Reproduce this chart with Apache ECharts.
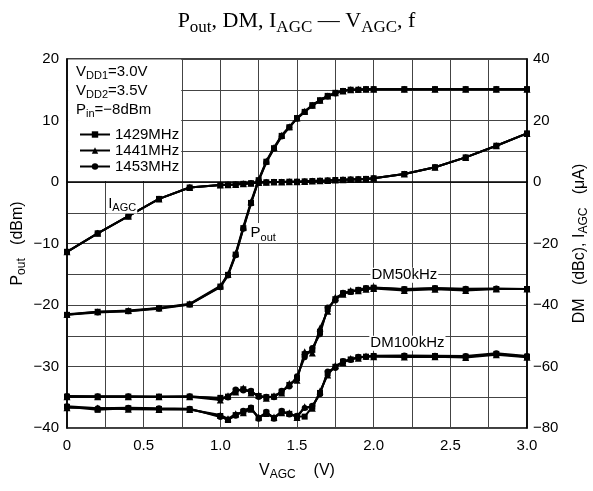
<!DOCTYPE html>
<html><head><meta charset="utf-8">
<script src="https://cdn.jsdelivr.net/npm/echarts@6.0.0/dist/echarts.min.js"></script>
<style>html,body{margin:0;padding:0;background:#fff}#c{width:593px;height:491px}</style>
</head><body><div id="c"></div>
<script>
const vagc = [0,0.2,0.4,0.6,0.8,1.0,1.05,1.1,1.15,1.2,1.25,1.3,1.35,1.4,1.45,1.5,1.55,1.6,1.65,1.7,1.75,1.8,1.85,1.9,1.95,2.0,2.2,2.4,2.6,2.8,3.0];
const freqs = ['1429MHz','1441MHz','1453MHz'];
const pout1429 = [-21.6,-21.1,-21.0,-20.5,-19.9,-17.0,-15.1,-11.8,-7.5,-3.4,0.3,3.3,5.5,7.5,8.9,10.4,11.4,12.5,13.3,14.0,14.5,14.8,15.0,15.0,15.1,15.1,15.1,15.1,15.1,15.1,15.1];
const pout1441 = [-21.5,-21.1,-20.9,-20.5,-19.8,-16.9,-15.0,-11.6,-7.3,-3.2,0.4,3.4,5.6,7.6,9.0,10.4,11.5,12.5,13.3,14.0,14.5,14.8,15.0,15.1,15.1,15.1,15.1,15.1,15.1,15.1,15.1];
const pout1453 = [-21.6,-21.2,-21.0,-20.6,-19.9,-17.1,-15.2,-11.9,-7.6,-3.5,0.2,3.2,5.4,7.4,8.9,10.3,11.4,12.4,13.2,13.9,14.4,14.8,15.0,15.0,15.1,15.1,15.1,15.1,15.1,15.1,15.1];
const iagc = [-22.7,-16.7,-11.1,-5.5,-1.8,-1.0,-0.9,-0.8,-0.6,-0.4,-0.2,-0.1,0.0,0.0,0.1,0.1,0.2,0.3,0.4,0.5,0.65,0.7,0.8,0.9,1.0,1.2,2.6,4.8,8.0,11.8,15.8];
const dm50_1429 = [-69.8,-69.8,-69.8,-69.8,-69.8,-70.2,-69.8,-67.9,-67.4,-68.2,-69.6,-70.0,-69.8,-68.2,-66.0,-63.8,-56.0,-54.6,-48.7,-41.3,-38.1,-36.2,-35.7,-35.1,-34.6,-34.4,-34.9,-34.6,-34.9,-34.8,-34.8];
const dm50_1441 = [-69.8,-69.8,-69.8,-69.8,-69.8,-70.9,-69.5,-68.3,-67.0,-68.6,-69.3,-70.3,-69.5,-68.6,-65.5,-64.5,-55.2,-55.6,-47.5,-42.0,-37.5,-36.5,-35.3,-35.4,-34.9,-34.6,-35.3,-34.9,-35.3,-34.8,-34.8];
const dm50_1453 = [-69.6,-69.7,-69.7,-69.8,-69.7,-70.4,-70.1,-67.5,-67.8,-67.9,-69.9,-69.8,-70.0,-67.9,-66.5,-63.2,-57.0,-54.0,-49.5,-40.8,-38.5,-36.0,-35.8,-35.0,-34.5,-34.3,-34.8,-34.5,-34.7,-34.6,-34.8];
const dm100_1429 = [-73.1,-74.1,-73.6,-73.8,-73.9,-76.1,-77.4,-75.8,-74.7,-73.6,-76.8,-75.0,-76.8,-74.7,-75.4,-76.3,-76.3,-73.1,-68.6,-62.2,-60.1,-58.4,-57.7,-57.0,-56.8,-56.6,-56.6,-56.6,-56.8,-55.9,-56.8];
const dm100_1441 = [-73.4,-73.5,-73.9,-74.0,-74.0,-75.8,-77.0,-75.4,-75.0,-73.9,-76.4,-75.3,-76.4,-75.0,-75.0,-76.6,-73.1,-73.6,-68.0,-62.8,-59.7,-58.8,-57.4,-57.3,-56.6,-56.8,-56.9,-56.8,-57.1,-56.2,-57.0];
const dm100_1453 = [-72.9,-73.6,-73.4,-73.6,-73.7,-76.4,-77.2,-76.0,-74.4,-73.3,-77.0,-74.7,-77.0,-74.4,-75.6,-76.0,-73.5,-72.8,-69.0,-61.6,-60.5,-58.2,-57.9,-56.8,-56.9,-56.5,-56.4,-56.5,-56.6,-55.7,-56.6];
const xTicks = [0,0.5,1.0,1.5,2.0,2.5,3.0];
const leftTicks = [20,10,0,-10,-20,-30,-40];
const rightTicks = [40,20,0,-20,-40,-60,-80];

const SANS = 'Liberation Sans, Arial, sans-serif';
const SERIF = 'Liberation Serif, Times New Roman, serif';
function rich(F, f, L, fam) {
  return {
    m: {fontSize: F, lineHeight: L, fontFamily: fam, fontWeight: 'normal', color: '#000', verticalAlign: 'middle'},
    s: {fontSize: f, lineHeight: f, fontFamily: fam, fontWeight: 'normal', color: '#000', verticalAlign: 'bottom'}
  };
}
const minus = v => String(v).replace('-', '\u2212');
const pair = arr => arr.map((v, i) => [vagc[i], v]);
const symbols = {'1429MHz': ['rect', 6], '1441MHz': ['triangle', 7], '1453MHz': ['circle', 6]};

function line(name, data, yIdx, extra) {
  return Object.assign({
    type: 'line', name: name, yAxisIndex: yIdx, data: pair(data),
    symbol: symbols[name][0], symbolSize: symbols[name][1],
    lineStyle: {color: '#000', width: 2}, itemStyle: {color: '#000'},
    animation: false, z: 3
  }, extra || {});
}
const lbl = (text, coord, r) => ({
  coord: coord, symbolSize: 0,
  label: {show: true, position: 'inside', formatter: text, backgroundColor: '#fff', padding: [0, 1], rich: r}
});

const series = [
  line('1429MHz', pout1429, 0, {
    markArea: {silent: true, itemStyle: {color: '#fff'}, data: [[{coord: [0.007, 0.15]}, {coord: [0.745, 19.9]}]]},
    markPoint: {silent: true, symbol: 'circle', data: [
      lbl('{m|I}{s|AGC}', [0.36, -3.5], rich(15, 11, 20, SANS)),
      lbl('{m|P}{s|out}', [1.28, -8.3], rich(15, 11, 20, SANS))
    ]}
  }),
  line('1441MHz', pout1441, 0),
  line('1453MHz', pout1453, 0),
  line('1429MHz', iagc, 1),
  line('1441MHz', iagc, 1),
  line('1453MHz', iagc, 1),
  line('1429MHz', dm50_1429, 1, {
    markPoint: {silent: true, symbol: 'circle', data: [
      lbl('DM50kHz', [2.2, -30.3]),
      lbl('DM100kHz', [2.22, -52.4])
    ], label: {fontSize: 15, fontFamily: SANS, color: '#000'}}
  }),
  line('1441MHz', dm50_1441, 1),
  line('1453MHz', dm50_1453, 1),
  line('1429MHz', dm100_1429, 1),
  line('1441MHz', dm100_1441, 1),
  line('1453MHz', dm100_1453, 1)
];

const chart = echarts.init(document.getElementById('c'), null, {renderer: 'canvas'});
chart.setOption({
  animation: false,
  backgroundColor: '#fff',
  title: {
    text: '{m|P}{s|out}{m|, DM, I}{s|AGC}{m| \u2014 V}{s|AGC}{m|, f}',
    left: 'center', top: 2,
    textStyle: {fontWeight: 'normal', rich: rich(22, 17, 29, SERIF)}
  },
  legend: {
    data: freqs, orient: 'vertical', left: 74, top: 122,
    itemWidth: 30, itemHeight: 8, itemGap: 1, selectedMode: false,
    textStyle: {fontSize: 15, fontFamily: SANS, color: '#000'}
  },
  graphic: [{
    type: 'text', left: 76, top: 64, silent: true, z: 100,
    style: {
      text: '{m|V}{s|DD1}{m|=3.0V}\n{m|V}{s|DD2}{m|=3.5V}\n{m|P}{s|in}{m|=\u22128dBm}',
      rich: rich(15, 11, 19, SANS)
    }
  }],
  grid: {left: 67, right: 66, top: 59, bottom: 63, containLabel: false, outerBoundsMode: 'none',
    show: true, borderColor: '#000', borderWidth: 1.5, backgroundColor: 'transparent'},
  xAxis: {
    type: 'value', min: 0, max: 3, interval: 0.25,
    name: '{m|V}{s|AGC}{m|    (V)}', nameLocation: 'middle', nameGap: 32,
    nameTextStyle: {rich: rich(16, 12, 21, SANS)},
    axisLine: {show: true, lineStyle: {color: '#000', width: 1.5}},
    axisTick: {show: false},
    splitLine: {show: true, lineStyle: {color: '#444', width: 1}},
    axisLabel: {
      fontSize: 15, fontFamily: SANS, color: '#000', margin: 10,
      formatter: v => xTicks.some(t => Math.abs(t - v) < 1e-6) ? (v === 0 ? '0' : v.toFixed(1)) : ''
    }
  },
  yAxis: [{
    type: 'value', min: -40, max: 20, interval: 5, position: 'left',
    name: '{m|P}{s|out}{m|   (dBm)}', nameLocation: 'middle', nameGap: 39, nameRotate: 90, nameMoveOverlap: false,
    nameTextStyle: {rich: rich(16, 12, 21, SANS)},
    axisLine: {show: true, lineStyle: {color: '#000', width: 1.5}},
    axisTick: {show: false},
    splitLine: {show: true, lineStyle: {color: '#444', width: 1}},
    axisLabel: {
      fontSize: 15, fontFamily: SANS, color: '#000', margin: 8,
      formatter: v => leftTicks.includes(v) ? minus(v) : ''
    }
  }, {
    type: 'value', min: -80, max: 40, interval: 10, position: 'right',
    name: '{m|DM   (dBc), I}{s|AGC}{m|   (\u03bcA)}', nameLocation: 'middle', nameGap: 42, nameRotate: 90,
    nameTextStyle: {rich: rich(16, 12, 21, SANS)},
    axisLine: {show: true, lineStyle: {color: '#000', width: 1.5}},
    axisTick: {show: false},
    splitLine: {show: false},
    axisLabel: {
      fontSize: 15, fontFamily: SANS, color: '#000', margin: 6,
      formatter: v => rightTicks.includes(v) ? minus(v) : ''
    }
  }],
  series: series
});
</script></body></html>
